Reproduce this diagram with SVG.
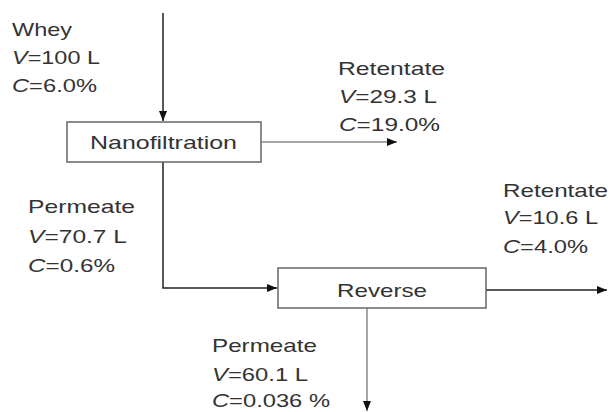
<svg xmlns="http://www.w3.org/2000/svg" width="612" height="412" viewBox="0 0 612 412">
<defs>
<style>
text{font-family:"Liberation Sans",Arial,sans-serif;font-size:19px;fill:#333}
.i{font-style:italic}
.box{fill:#fff;stroke:#666;stroke-width:1.5}
.ln{fill:none;stroke:#222;stroke-width:1.5}
.gr{stroke:#888}
</style>
<marker id="ah" viewBox="0 0 10 8" refX="10" refY="4" markerWidth="10" markerHeight="8" markerUnits="userSpaceOnUse" orient="auto">
<path d="M0,0 L10,4 L0,8 z" fill="#111"/>
</marker>
</defs>
<rect width="612" height="412" fill="#fff"/>
<g id="connectors">
<path class="ln" d="M163,13 V121" marker-end="url(#ah)"/>
<path class="ln gr" d="M261,142 H397" marker-end="url(#ah)"/>
<path class="ln" d="M163,162 V288 H277" marker-end="url(#ah)"/>
<path class="ln" d="M486,290 H607" marker-end="url(#ah)"/>
<path class="ln gr" d="M367,308 V411" marker-end="url(#ah)"/>
</g>
<g id="nanofiltration">
<rect class="box" x="67" y="122" width="194" height="40"/>
<text x="90" y="149" textLength="147" lengthAdjust="spacingAndGlyphs">Nanofiltration</text>
</g>
<g id="reverse">
<rect class="box" x="278" y="268" width="208" height="40"/>
<text x="337" y="297" textLength="90" lengthAdjust="spacingAndGlyphs">Reverse</text>
</g>
<g id="label-whey">
<text x="12" y="36" textLength="60" lengthAdjust="spacingAndGlyphs">Whey</text>
<text x="12" y="64" textLength="88" lengthAdjust="spacingAndGlyphs"><tspan class="i">V</tspan>=100 L</text>
<text x="12" y="92" textLength="85" lengthAdjust="spacingAndGlyphs"><tspan class="i">C</tspan>=6.0%</text>
</g>
<g id="label-retentate-nf">
<text x="338" y="75" textLength="107" lengthAdjust="spacingAndGlyphs">Retentate</text>
<text x="339" y="103" textLength="98" lengthAdjust="spacingAndGlyphs"><tspan class="i">V</tspan>=29.3 L</text>
<text x="339" y="131" textLength="101" lengthAdjust="spacingAndGlyphs"><tspan class="i">C</tspan>=19.0%</text>
</g>
<g id="label-permeate-nf">
<text x="28" y="213" textLength="107" lengthAdjust="spacingAndGlyphs">Permeate</text>
<text x="28" y="243" textLength="99" lengthAdjust="spacingAndGlyphs"><tspan class="i">V</tspan>=70.7 L</text>
<text x="28" y="272" textLength="87" lengthAdjust="spacingAndGlyphs"><tspan class="i">C</tspan>=0.6%</text>
</g>
<g id="label-retentate-ro">
<text x="503" y="197" textLength="105" lengthAdjust="spacingAndGlyphs">Retentate</text>
<text x="503" y="224" textLength="95" lengthAdjust="spacingAndGlyphs"><tspan class="i">V</tspan>=10.6 L</text>
<text x="503" y="253" textLength="85" lengthAdjust="spacingAndGlyphs"><tspan class="i">C</tspan>=4.0%</text>
</g>
<g id="label-permeate-ro">
<text x="212" y="352" textLength="105" lengthAdjust="spacingAndGlyphs">Permeate</text>
<text x="212" y="381" textLength="96" lengthAdjust="spacingAndGlyphs"><tspan class="i">V</tspan>=60.1 L</text>
<text x="212" y="407" textLength="118" lengthAdjust="spacingAndGlyphs"><tspan class="i">C</tspan>=0.036 %</text>
</g>
</svg>
